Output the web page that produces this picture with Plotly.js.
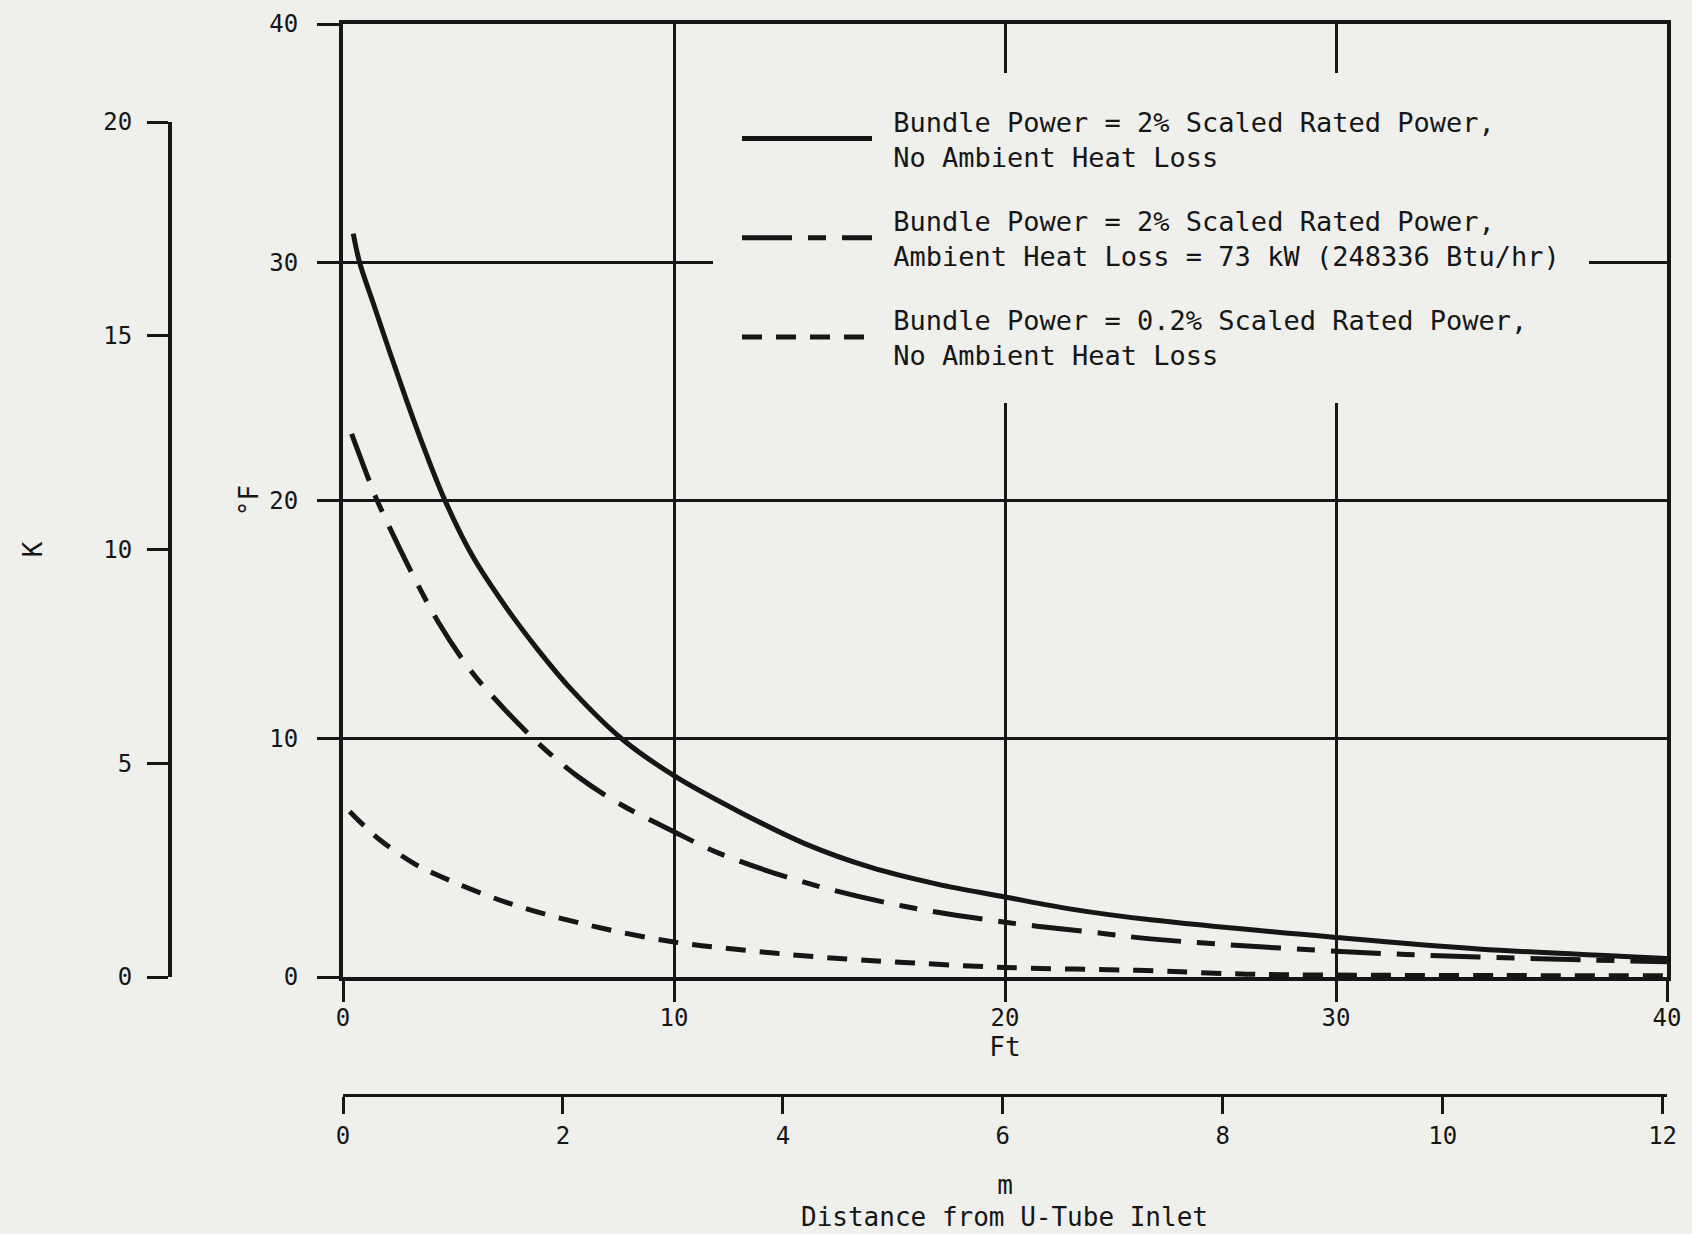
<!DOCTYPE html>
<html>
<head>
<meta charset="utf-8">
<script src="https://cdn.plot.ly/plotly-3.0.1.min.js"></script>
<style>
  html, body { margin: 0; padding: 0; background: #efefec; }
  #chart { width: 1692px; height: 1234px; }
</style>
</head>
<body>
<div id="chart"></div>
<script>
// Distance from U-tube inlet (ft) and temperature difference (°F)
const ftSolid = [0.31, 0.5, 0.91, 1.42, 1.92, 2.42, 3.05, 3.9, 4.91, 5.91, 6.91, 8.42, 10, 11.95, 13.95, 15.95, 17.95, 20, 22, 24.4, 30, 34.3, 40];
const valSolid = [31.2, 30.0, 28.3, 26.2, 24.2, 22.3, 20.1, 17.7, 15.55, 13.7, 12.05, 10.0, 8.45, 6.95, 5.6, 4.6, 3.9, 3.36, 2.85, 2.4, 1.66, 1.18, 0.78];

const ftLoss = [0.26, 0.8, 1.0, 2.1, 2.9, 3.81, 4.41, 5.81, 7.11, 8.42, 10, 11.35, 13.95, 16.95, 20, 22.95, 24.4, 30, 34.3, 40];
const valLoss = [22.8, 20.8, 20.1, 16.9, 14.85, 12.95, 11.95, 9.93, 8.4, 7.22, 6.1, 5.2, 3.97, 2.97, 2.3, 1.83, 1.6, 1.08, 0.84, 0.64];

const ftLow = [0.2, 1.1, 2.2, 2.9, 5, 7.5, 10, 12.25, 14.45, 16.95, 20, 24, 27.3, 30, 35, 40];
const valLow = [6.95, 5.77, 4.72, 4.25, 3.1, 2.15, 1.47, 1.11, 0.83, 0.61, 0.4, 0.28, 0.12, 0.08, 0.06, 0.05];

const seriesNames = [
  "\u00a0Bundle Power = 2% Scaled Rated Power,<br>\u00a0No Ambient Heat Loss",
  "\u00a0Bundle Power = 2% Scaled Rated Power,<br>\u00a0Ambient Heat Loss = 73 kW (248336 Btu/hr)",
  "\u00a0Bundle Power = 0.2% Scaled Rated Power,<br>\u00a0No Ambient Heat Loss"
];

const ftTicks = [0, 10, 20, 30, 40];
const fTicks = [0, 10, 20, 30, 40];
const kTicks = [0, 5, 10, 15, 20];
const mTicks = [0, 2, 4, 6, 8, 10, 12];

const INK = '#161616';
const PAPER = '#efefec';
const FONT = '"DejaVu Sans Mono", "Liberation Mono", monospace';

const traces = [
  { x: ftSolid, y: valSolid, name: seriesNames[0], mode: 'lines', line: { color: INK, width: 5, shape: 'spline', smoothing: 1 }, legendgroup: 'a' },
  { x: ftLoss, y: valLoss, name: seriesNames[1], mode: 'lines', line: { color: INK, width: 5, dash: '50px,16px,18px,16px', shape: 'spline', smoothing: 1 }, legendgroup: 'b' },
  { x: ftLow, y: valLow, name: seriesNames[2], mode: 'lines', line: { color: INK, width: 5, dash: '20px,14px', shape: 'spline', smoothing: 1 }, legendgroup: 'c' },
  // empty traces that carry the K and m axes
  { x: [], y: [], xaxis: 'x', yaxis: 'y2', showlegend: false, hoverinfo: 'skip' },
  { x: [], y: [], xaxis: 'x2', yaxis: 'y', showlegend: false, hoverinfo: 'skip' }
];

const layout = {
  width: 1692, height: 1234,
  margin: { l: 0, r: 0, t: 0, b: 0 },
  paper_bgcolor: PAPER, plot_bgcolor: 'rgba(0,0,0,0)',
  font: { family: FONT, color: INK, size: 24 },
  showlegend: true,
  hovermode: false,
  xaxis: {
    domain: [343 / 1692, 1667 / 1692],
    range: [0, 40],
    tickvals: ftTicks, ticktext: ftTicks.map(String),
    ticks: 'outside', ticklen: 21, tickwidth: 3, tickcolor: INK,
    ticklabelstandoff: -5,
    showgrid: true, gridcolor: INK, gridwidth: 3,
    showline: true, linecolor: INK, linewidth: 4, mirror: true,
    zeroline: false,
    tickfont: { size: 24 },
    title: { text: 'Ft', font: { size: 26 }, standoff: 8 },
    anchor: 'y'
  },
  yaxis: {
    domain: [1 - 977 / 1234, 1 - 24 / 1234],
    range: [0, 40],
    tickvals: fTicks, ticktext: fTicks.map(String),
    ticks: 'outside', ticklen: 22, tickwidth: 3, tickcolor: INK,
    ticklabelstandoff: 14,
    showgrid: true, gridcolor: INK, gridwidth: 3,
    showline: true, linecolor: INK, linewidth: 4, mirror: true,
    zeroline: false,
    tickfont: { size: 24 },
    title: { text: '°F', font: { size: 26 }, standoff: 4 },
    anchor: 'x'
  },
  yaxis2: {
    domain: [1 - 977 / 1234, 1 - 122 / 1234],
    range: [0, 20],
    anchor: 'free', position: 170 / 1692, side: 'left',
    tickvals: kTicks, ticktext: kTicks.map(String),
    ticks: 'outside', ticklen: 21, tickwidth: 3, tickcolor: INK,
    ticklabelstandoff: 10,
    showgrid: false, zeroline: false,
    showline: true, linecolor: INK, linewidth: 4,
    tickfont: { size: 24 },
    title: { text: 'K', font: { size: 26 }, standoff: 52 }
  },
  xaxis2: {
    overlaying: 'x',
    range: [0, 12.04],
    anchor: 'free', position: 1 - 1095 / 1234, side: 'bottom',
    tickvals: mTicks, ticktext: mTicks.map(String),
    ticks: 'outside', ticklen: 17, tickwidth: 3, tickcolor: INK,
    ticklabelstandoff: 1,
    showgrid: false, zeroline: false,
    showline: true, linecolor: INK, linewidth: 3,
    tickfont: { size: 24 },
    title: { text: 'm', font: { size: 26 }, standoff: 27 }
  },
  legend: {
    x: 713 / 1692, y: 1 - 73 / 1234, xanchor: 'left', yanchor: 'top',
    bgcolor: PAPER, bordercolor: PAPER, borderwidth: 24,
    font: { family: FONT, size: 27, color: INK },
    itemwidth: 130,
    tracegroupgap: 26
  },
  annotations: [
    { text: 'Distance from U-Tube Inlet', xref: 'x domain', yref: 'paper', x: 0.5, y: 1 - 1217 / 1234,
      xanchor: 'center', yanchor: 'middle', showarrow: false, font: { size: 26, family: FONT, color: INK } }
  ]
};

Plotly.newPlot('chart', traces, layout, { displayModeBar: false, staticPlot: true });
</script>
</body>
</html>
